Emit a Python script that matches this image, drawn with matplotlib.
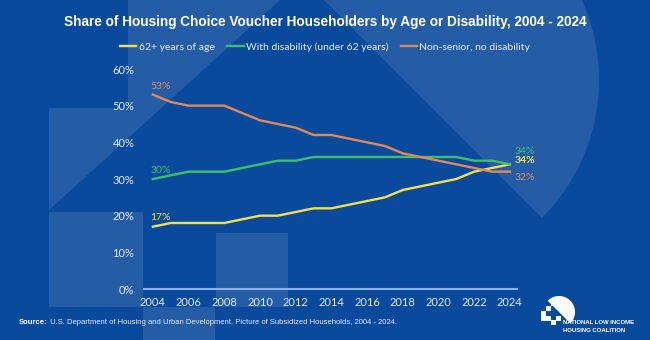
import matplotlib.pyplot as plt
from matplotlib.patches import Polygon, Rectangle
import numpy as np

years = list(range(2004, 2025))
senior = [17, 18, 18, 18, 18, 19, 20, 20, 21, 22, 22, 23, 24, 25, 27, 28, 29, 30, 32, 33, 34]
disabled = [30, 31, 32, 32, 32, 33, 34, 35, 35, 36, 36, 36, 36, 36, 36, 36, 36, 36, 35, 35, 34]
other = [53, 51, 50, 50, 50, 48, 46, 45, 44, 42, 42, 41, 40, 39, 37, 36, 35, 34, 33, 32, 32]
names = ['62+ years of age', 'With disability (under 62 years)', 'Non-senior, no disability']
colors = ['#f3e04a', '#3fbf6c', '#e0895a']
yticks = [0, 10, 20, 30, 40, 50, 60]

BG = '#0a4a9c'
LIGHT = (1, 1, 1, 0.11)
TXT = '#e4ecf8'
NARROW = ['Liberation Sans', 'DejaVu Sans']
plt.rcParams['font.family'] = ['Lato', 'DejaVu Sans']

fig = plt.figure(figsize=(6.5, 3.4), dpi=100)
fig.patch.set_facecolor(BG)

# background decoration, pixel coords
bg = fig.add_axes([0, 0, 1, 1], zorder=0)
bg.set_xlim(0, 650)
bg.set_ylim(340, 0)
bg.axis('off')
bg.add_patch(Polygon([(128, 0), (280, 0), (49, 210), (49, 108), (128, 108)], fc=LIGHT, ec='none'))
bg.add_patch(Rectangle((49, 212), 94, 95, fc=LIGHT, ec='none'))
bg.add_patch(Rectangle((143, 307), 72, 33, fc=LIGHT, ec='none'))
bg.add_patch(Rectangle((216, 233), 72, 74, fc=LIGHT, ec='none'))
phi = np.radians(np.linspace(-135, 45, 100))
bg.add_patch(Polygon(np.c_[404 + 195 * np.cos(phi), 80 + 195 * np.sin(phi)], fc=LIGHT, ec='none'))

# logo
phi2 = np.radians(np.linspace(-135, 45, 50))
bg.add_patch(Polygon(np.c_[559 + 16 * np.cos(phi2), 312 + 16 * np.sin(phi2)], fc='white', ec='none'))
for (lx, ly) in [(541, 311), (546, 306), (551, 301), (546, 316), (541, 316), (551, 320), (556, 316)]:
    bg.add_patch(Rectangle((lx, ly), 5, 5, fc='white', ec='none'))
bg.text(563, 323, 'NATIONAL LOW INCOME', color='white', fontsize=4.3, fontweight='bold', va='center',
        family=NARROW)
bg.text(563, 330, 'HOUSING COALITION', color='white', fontsize=4.3, fontweight='bold', va='center',
        family=NARROW)

ax = fig.add_axes([144 / 650, 1 - 289 / 340, (517 - 144) / 650, 220 / 340], zorder=2)
ax.set_facecolor('none')
for vals, name, c in zip([senior, disabled, other], names, colors):
    ax.plot(years, vals, color=c, lw=1.7, label=name, solid_joinstyle='round')

ax.set_xlim(2003.5, 2024.4)
ax.set_ylim(0, 60)
ax.set_xticks(years[::2])
ax.set_yticks(yticks)
ax.set_yticklabels([f'{v}%' for v in yticks])
ax.tick_params(length=0, colors=TXT, labelsize=8)
ax.tick_params(axis='x', pad=6)
ax.tick_params(axis='y', pad=7)
for s in ['top', 'right', 'left']:
    ax.spines[s].set_visible(False)
ax.spines['bottom'].set_color('#8fb2e6')
ax.spines['bottom'].set_linewidth(1.5)

# value labels
ax.text(2003.85, 55.3, f'{other[0]}%', color=colors[2], fontsize=7.5, va='center')
ax.text(2003.85, 32.2, f'{disabled[0]}%', color=colors[1], fontsize=7.5, va='center')
ax.text(2003.85, 19.4, f'{senior[0]}%', color=colors[0], fontsize=7.5, va='center')
ax.text(2024.25, 37.6, f'{disabled[-1]}%', color=colors[1], fontsize=7.5, va='center', clip_on=False)
ax.text(2024.25, 35.0, f'{senior[-1]}%', color=colors[0], fontsize=7.5, va='center', fontweight='bold', clip_on=False)
ax.text(2024.25, 30.4, f'{other[-1]}%', color=colors[2], fontsize=7.5, va='center', clip_on=False)

fig.text(0.5, 1 - 22 / 340, 'Share of Housing Choice Voucher Householders by Age or Disability, 2004 - 2024',
         ha='center', va='center', color='white', fontsize=9.8, fontweight='bold', family=NARROW)
leg = fig.legend(loc='center', bbox_to_anchor=(0.5, 1 - 47 / 340), ncol=3, frameon=False,
                 handlelength=1.6, handletextpad=0.2, columnspacing=1.2, fontsize=7.5)
for t in leg.get_texts():
    t.set_color(TXT)

src = fig.text(19 / 650, 1 - 322 / 340, 'Source:', color='white', fontsize=5.5, fontweight='bold',
               family=NARROW, va='center')
ax.annotate(' U.S. Department of Housing and Urban Development, Picture of Subsidized Households, 2004 - 2024.',
            xy=(1, 0.5), xycoords=src, va='center', ha='left', color=TXT, fontsize=5.5, family=NARROW,
            annotation_clip=False)

fig.savefig('out.png', dpi=100, facecolor=BG)
